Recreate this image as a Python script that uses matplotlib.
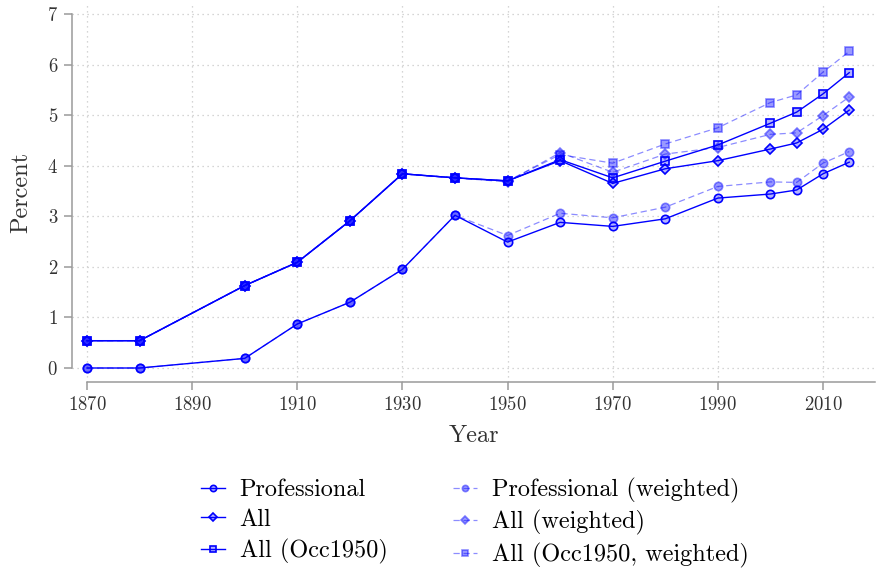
import matplotlib
matplotlib.use("Agg")
import matplotlib.pyplot as plt

plt.rcParams['font.family'] = 'serif'
plt.rcParams['font.serif'] = ['cmr10', 'DejaVu Serif']
plt.rcParams['axes.formatter.use_mathtext'] = True

years = [1870, 1880, 1900, 1910, 1920, 1930, 1940, 1950, 1960, 1970,
         1980, 1990, 2000, 2005, 2010, 2015]

professional = [0.00, 0.00, 0.19, 0.87, 1.30, 1.95, 3.02, 2.49, 2.88, 2.80,
                2.95, 3.36, 3.44, 3.52, 3.84, 4.07]
all_occ = [0.54, 0.54, 1.63, 2.09, 2.91, 3.84, 3.76, 3.70, 4.10, 3.65,
           3.94, 4.10, 4.33, 4.45, 4.72, 5.10]
all_occ1950 = [0.54, 0.54, 1.63, 2.09, 2.91, 3.84, 3.76, 3.70, 4.12, 3.76,
               4.09, 4.41, 4.84, 5.06, 5.42, 5.84]

professional_w = [0.00, 0.00, 0.19, 0.87, 1.30, 1.95, 3.02, 2.62, 3.06, 2.97,
                  3.18, 3.59, 3.68, 3.67, 4.05, 4.28]
all_occ_w = [0.54, 0.54, 1.63, 2.09, 2.91, 3.84, 3.76, 3.68, 4.26, 3.87,
             4.23, 4.36, 4.62, 4.65, 4.99, 5.36]
all_occ1950_w = [0.54, 0.54, 1.63, 2.09, 2.91, 3.84, 3.76, 3.70, 4.22, 4.05,
                 4.43, 4.75, 5.25, 5.40, 5.85, 6.26]

blue = (0, 0, 1)
solid_face = (0, 0, 1, 0.3)
light = (0, 0, 1, 0.45)
light_face = (0, 0, 1, 0.4)

fig = plt.figure(figsize=(8.76, 5.69), dpi=100)
ax = fig.add_axes([72 / 876, 1 - 382 / 569, (875 - 72) / 876, (382 - 2) / 569])

series = [
    (professional, 'Professional', 'o', 6, '-', blue, solid_face, blue),
    (all_occ, 'All', 'D', 5.5, '-', blue, solid_face, blue),
    (all_occ1950, 'All (Occ1950)', 's', 6, '-', blue, solid_face, blue),
    (professional_w, 'Professional (weighted)', 'o', 6, '--', light, light_face, light),
    (all_occ_w, 'All (weighted)', 'D', 5.5, '--', light, light_face, light),
    (all_occ1950_w, 'All (Occ1950, weighted)', 's', 6, '--', light, light_face, light),
]

for vals, label, mk, ms, ls, col, face, edge in series:
    ax.plot(years, vals, linestyle=ls, color=col, linewidth=1.0 if ls == '-' else 0.9,
            marker=mk, markersize=ms, markerfacecolor=face, markeredgecolor=edge,
            markeredgewidth=1.2, label=label, dashes=(5, 3) if ls == '--' else (None, None))

ax.set_xlim(1870 - 15 / 5.257, 1870 + 788 / 5.257)
ax.set_ylim(-14 / 50.57, 7 + 12 / 50.57)
ax.set_xticks(range(1870, 2011, 20))
ax.set_yticks(range(0, 8))

ax.grid(True, color='#c8c8c8', linestyle=(0, (1, 3)), linewidth=0.9)
ax.set_axisbelow(True)

for s in ['top', 'right']:
    ax.spines[s].set_visible(False)
ax.spines['left'].set_bounds(0, 7)
ax.spines['bottom'].set_bounds(1870, ax.get_xlim()[1])
for s in ['left', 'bottom']:
    ax.spines[s].set_color('#9a9a9a')
    ax.spines[s].set_linewidth(1.1)

ax.tick_params(axis='both', colors='#9a9a9a', labelcolor='#333333', length=6,
               width=1.1, labelsize=13.5, pad=4)

ax.set_ylabel('Percent', fontsize=17.5, color='#333333', labelpad=11)
ax.set_xlabel('Year', fontsize=17.5, color='#333333', labelpad=8)

fig.legend(loc='center', bbox_to_anchor=(0.542, 0.081), ncol=2, frameon=False,
           fontsize=17.5, handlelength=1.0, columnspacing=2.7, labelspacing=0.32,
           handletextpad=0.6, markerscale=0.75)

fig.savefig('out.png', dpi=100)
